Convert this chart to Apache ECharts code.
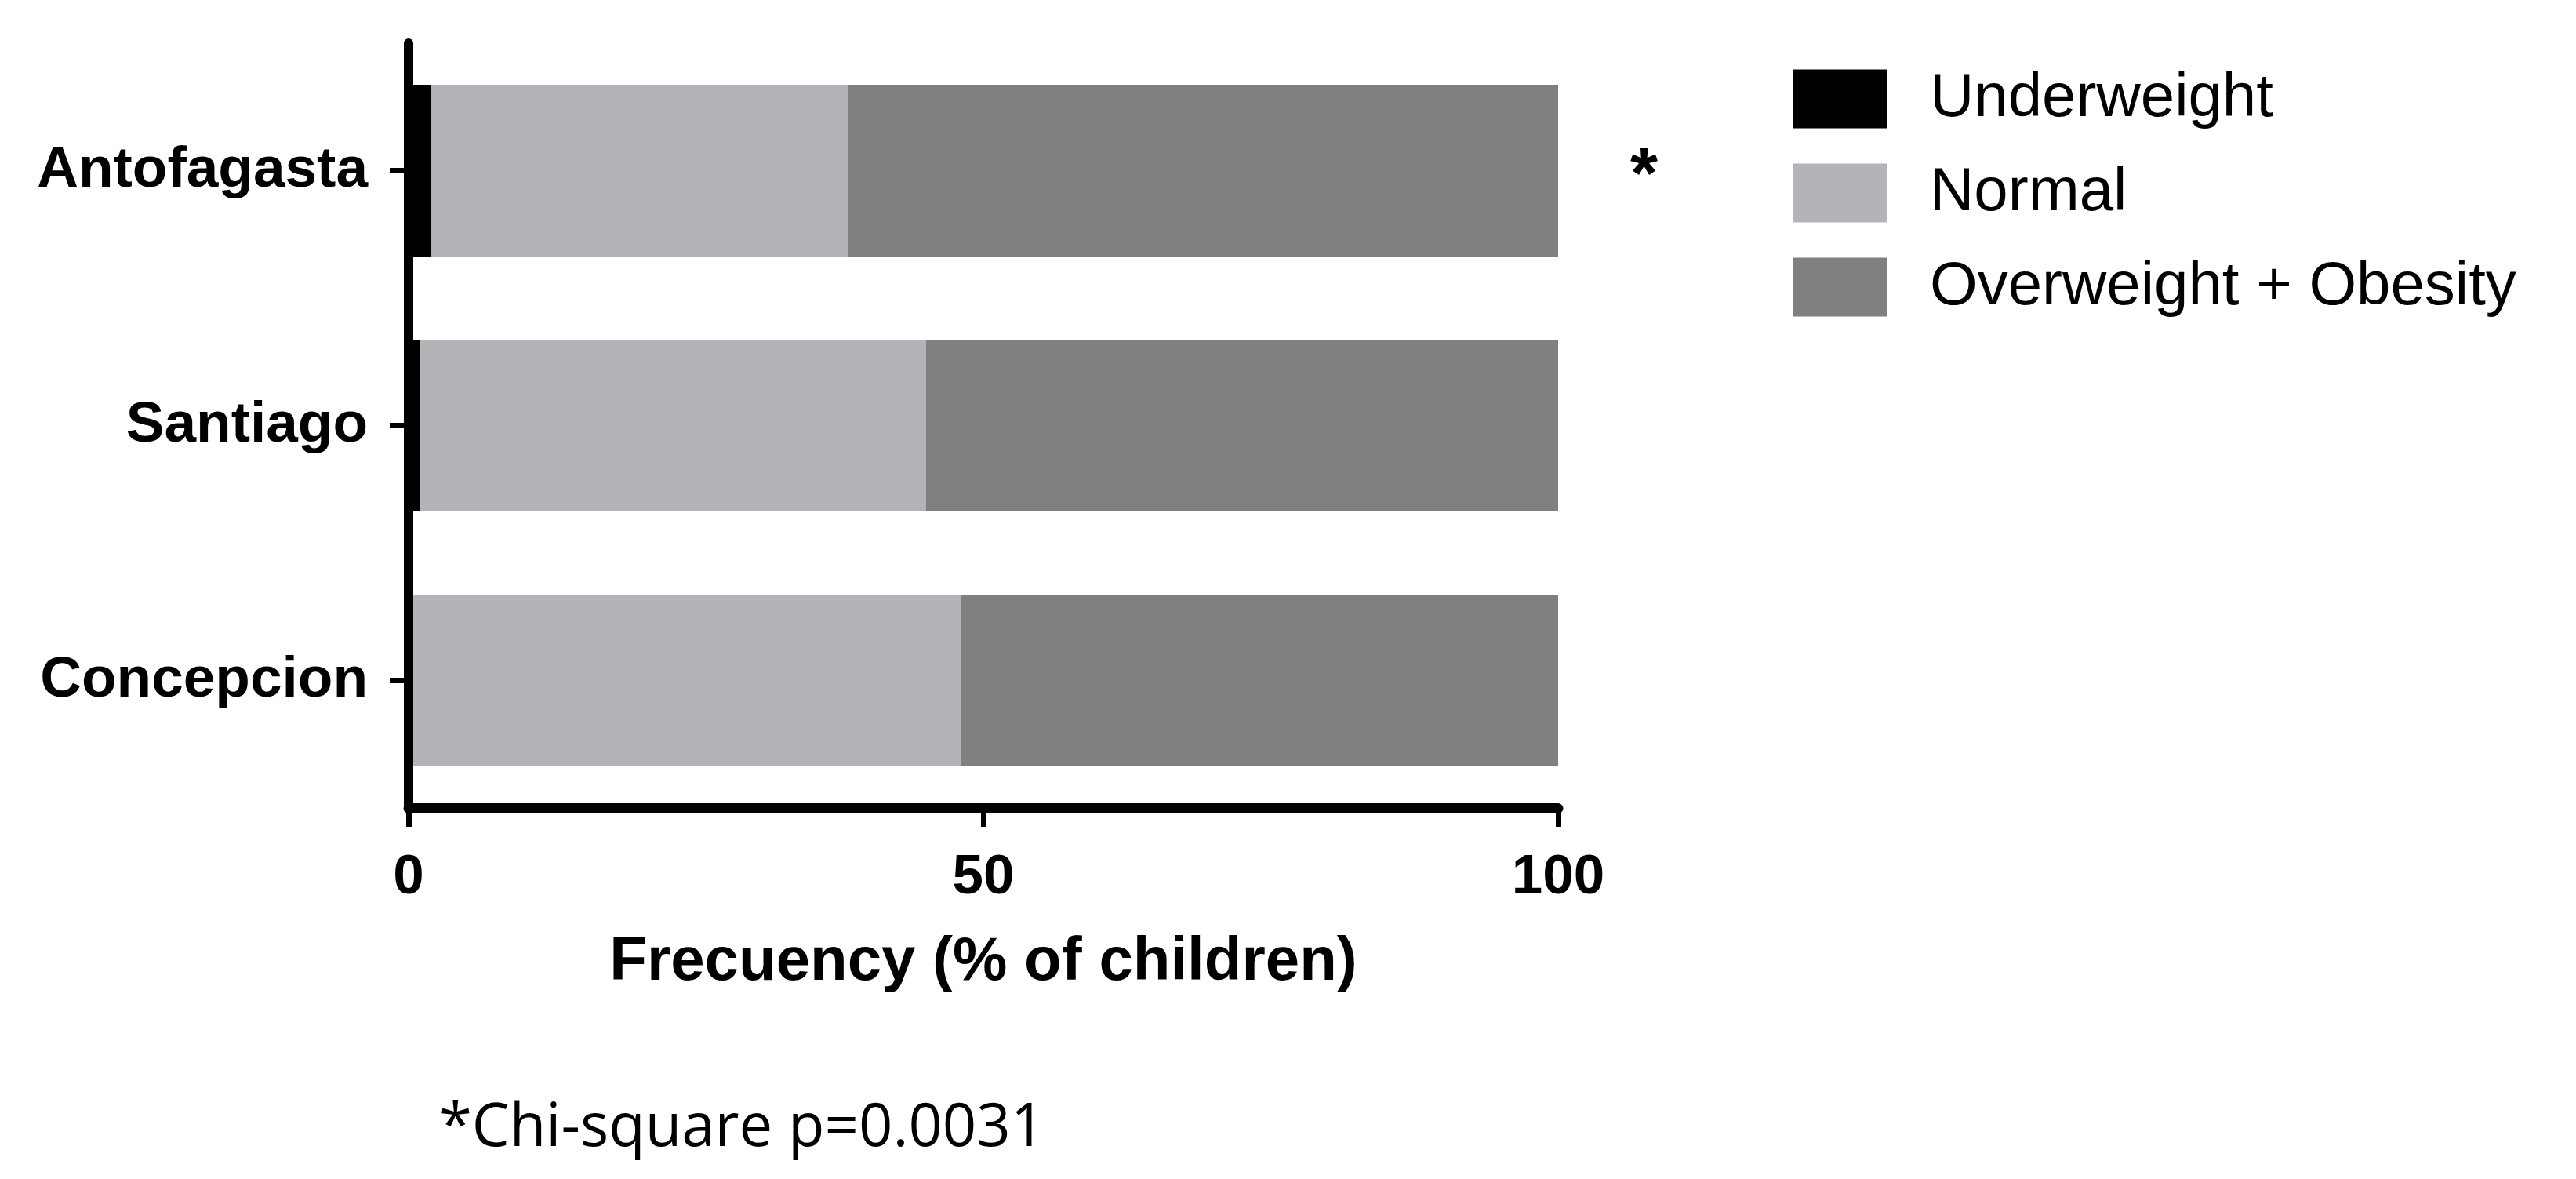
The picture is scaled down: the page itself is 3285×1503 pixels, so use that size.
<!DOCTYPE html>
<html>
<head>
<meta charset="utf-8">
<script src="https://cdn.jsdelivr.net/npm/echarts@6/dist/echarts.min.js"></script>
<style>
html,body{margin:0;padding:0;background:#fff;}
#chart{width:3285px;height:1503px;}
</style>
</head>
<body>
<div id="chart"></div>
<script>
const categories = ['Antofagasta', 'Santiago', 'Concepcion'];
const seriesNames = ['Underweight', 'Normal', 'Overweight + Obesity'];
const underweight = [2, 1, 0.4];
const normal = [36.2, 44, 47.6];
const overweight = [61.8, 55, 52];
const significance = ['*', '', ''];
const xTicks = [0, 50, 100];
const xAxisTitle = 'Frecuency (% of children)';
const footnote = '*Chi-square p=0.0031';

const colors = ['#000000', '#b3b4b8', '#808080'];
const FONT = '"Liberation Sans", Arial, sans-serif';

const chart = echarts.init(document.getElementById('chart'), null, {renderer: 'canvas'});

const lastData = overweight.map((v, i) => ({
  value: v,
  label: {
    show: significance[i] !== '',
    formatter: significance[i]
  }
}));

chart.setOption({
  animation: false,
  backgroundColor: '#ffffff',
  title: {
    text: footnote,
    left: 555,
    top: 1392,
    textStyle: {
      fontFamily: '"Open Sans", sans-serif',
      fontWeight: 'normal',
      fontSize: 76,
      lineHeight: 84,
      color: '#000000'
    }
  },
  legend: {
    orient: 'vertical',
    left: 2282,
    top: 81,
    itemWidth: 119,
    itemHeight: 75,
    itemGap: 40,
    icon: 'rect',
    data: seriesNames,
    textStyle: {
      fontFamily: FONT,
      fontSize: 78,
      lineHeight: 80,
      color: '#000000',
      padding: [0, 0, 0, 50]
    }
  },
  grid: {
    left: 521,
    right: 3285 - 1987,
    top: 55,
    bottom: 1503 - 1030,
    containLabel: false
  },
  xAxis: {
    type: 'value',
    min: xTicks[0],
    max: xTicks[xTicks.length - 1],
    interval: xTicks[1] - xTicks[0],
    z: 5,
    name: xAxisTitle,
    nameLocation: 'middle',
    nameGap: 158,
    nameTextStyle: {
      fontFamily: FONT,
      fontWeight: 'bold',
      fontSize: 78,
      color: '#000000'
    },
    axisLine: {show: true, lineStyle: {color: '#000000', width: 13}},
    axisTick: {show: true, length: 24, lineStyle: {color: '#000000', width: 7}},
    axisLabel: {
      margin: 54,
      fontFamily: FONT,
      fontWeight: 'bold',
      fontSize: 71,
      color: '#000000'
    },
    splitLine: {show: false}
  },
  yAxis: {
    type: 'category',
    data: categories,
    inverse: true,
    z: 5,
    axisLine: {show: true, lineStyle: {color: '#000000', width: 12}},
    axisTick: {show: true, alignWithLabel: true, length: 24, lineStyle: {color: '#000000', width: 7}},
    axisLabel: {
      margin: 52,
      fontFamily: FONT,
      fontWeight: 'bold',
      fontSize: 73,
      color: '#000000'
    },
    splitLine: {show: false}
  },
  series: [
    {
      name: seriesNames[0], type: 'bar', stack: 'total', data: underweight,
      barWidth: '67.4%', itemStyle: {color: colors[0]}
    },
    {
      name: seriesNames[1], type: 'bar', stack: 'total', data: normal,
      barWidth: '67.4%', itemStyle: {color: colors[1]}
    },
    {
      name: seriesNames[2], type: 'bar', stack: 'total', data: lastData,
      barWidth: '67.4%', itemStyle: {color: colors[2]},
      label: {
        position: 'right',
        distance: 92,
        offset: [0, 10],
        fontFamily: FONT,
        fontWeight: 'bold',
        fontSize: 90,
        color: '#000000'
      }
    }
  ]
});
</script>
</body>
</html>
